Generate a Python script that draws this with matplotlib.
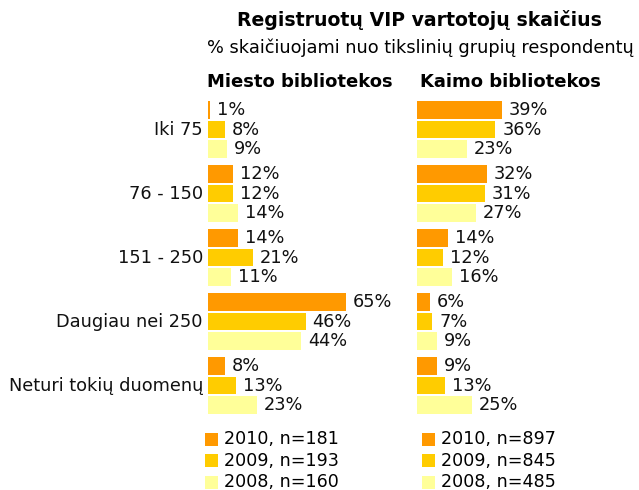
import matplotlib
matplotlib.use("Agg")
import matplotlib.pyplot as plt
from matplotlib.patches import Rectangle

plt.rcParams['font.family'] = ['DejaVu Sans']

categories = ["Iki 75", "76 - 150", "151 - 250", "Daugiau nei 250", "Neturi tokių duomenų"]
years = ["2010", "2009", "2008"]
colors = ["#FF9900", "#FFCC00", "#FFFF99"]

city_2010 = [1, 12, 14, 65, 8]
city_2009 = [8, 12, 21, 46, 13]
city_2008 = [9, 14, 11, 44, 23]
city_n = [181, 193, 160]

rural_2010 = [39, 32, 14, 6, 9]
rural_2009 = [36, 31, 12, 7, 13]
rural_2008 = [23, 27, 16, 9, 25]
rural_n = [897, 845, 485]

W, H = 639, 490
fig = plt.figure(figsize=(W / 100, H / 100), dpi=100)


def box(x0, y0, x1, y1):
    return [x0 / W, 1 - y1 / H, (x1 - x0) / W, (y1 - y0) / H]


def ftext(x, y, s, **kw):
    fig.text(x / W, 1 - y / H, s, **kw)


FS = 12.8
STEP = 0.305
HEIGHT = 0.275


def panel(rect, xmax, series, show_labels):
    ax = fig.add_axes(rect)
    ax.set_xlim(0, xmax)
    ax.set_ylim(len(categories) - 0.5, -0.5)
    for k, vals in enumerate(series):
        ys = [i + (k - 1) * STEP for i in range(len(categories))]
        ax.barh(ys, vals, height=HEIGHT, color=colors[k], linewidth=0)
        for y, v in zip(ys, vals):
            ax.annotate(f"{v}%", (v, y), xytext=(7, 0), textcoords="offset pixels",
                        ha="left", va="center", fontsize=FS, color="#111111")
    ax.axis("off")
    if show_labels:
        for i, c in enumerate(categories):
            ax.annotate(c, (0, i), xytext=(-5, 0), textcoords="offset pixels",
                        ha="right", va="center", fontsize=FS, color="#111111",
                        annotation_clip=False)
    return ax


panel(box(208, 97.5, 399, 417.5), 90, [city_2010, city_2009, city_2008], True)
panel(box(417, 97.5, 639, 417.5), (639 - 417) / 2.18, [rural_2010, rural_2009, rural_2008], False)

ftext(419, 20, "Registruotų VIP vartotojų skaičius", ha="center", va="center",
      fontsize=13.6, fontweight="bold")
ftext(420, 48, "% skaičiuojami nuo tikslinių grupių respondentų", ha="center",
      va="center", fontsize=12.8)
ftext(300, 82, "Miesto bibliotekos", ha="center", va="center", fontsize=13,
      fontweight="bold")
ftext(510, 82, "Kaimo bibliotekos", ha="center", va="center", fontsize=13,
      fontweight="bold")


def legend(x, ns):
    for k, (yr, n) in enumerate(zip(years, ns)):
        yc = 439 + k * 21.5
        fig.patches.append(Rectangle(((x) / W, 1 - (yc + 6.5) / H), 13 / W, 13 / H,
                                     transform=fig.transFigure, color=colors[k],
                                     linewidth=0))
        ftext(x + 19, yc, f"{yr}, n={n}", ha="left", va="center", fontsize=12.6)


legend(205, city_n)
legend(422, rural_n)

fig.savefig("out.png", dpi=100, facecolor="white")
